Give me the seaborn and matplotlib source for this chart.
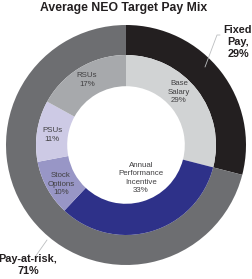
import matplotlib
matplotlib.use("Agg")
import matplotlib.pyplot as plt
import seaborn as sns

# Data
outer_labels = ["Fixed Pay", "Pay-at-risk"]
outer_values = [29, 71]
outer_colors = ["#231f20", "#6d6e71"]

inner_labels = ["Base\nSalary", "Annual\nPerformance\nIncentive", "Stock\nOptions", "PSUs", "RSUs"]
inner_values = [29, 33, 10, 11, 17]
inner_colors = ["#d1d3d4", "#2e3189", "#9896c6", "#cdcae5", "#a7a9ac"]

title = "Average NEO Target Pay Mix"

sns.set_theme(style="white")
plt.rcParams["font.family"] = ["Liberation Sans", "DejaVu Sans"]

W, H = 253, 279
fig = plt.figure(figsize=(W / 100, H / 100), dpi=100)
fig.patch.set_facecolor("white")
cx, cy, R = 126, 145, 120
ax = fig.add_axes([(cx - R) / W, (H - cy - R) / H, 2 * R / W, 2 * R / H])
ax.set_xlim(-1, 1)
ax.set_ylim(-1, 1)
ax.set_aspect("equal")
ax.axis("off")

ax.pie(outer_values, radius=1.0, colors=outer_colors, startangle=90, counterclock=False,
       wedgeprops=dict(width=0.25, linewidth=0))
ax.pie(inner_values, radius=0.75, colors=inner_colors, startangle=90, counterclock=False,
       wedgeprops=dict(width=0.26, linewidth=0))
ax.set_xlim(-1, 1)
ax.set_ylim(-1, 1)

# inner labels (pixel positions converted to data coords)
inner_pos = [(179, 92), (141, 178), (61, 184), (52, 135), (87, 80)]
for lab, v, (px, py) in zip(inner_labels, inner_values, inner_pos):
    ax.text((px - cx) / R, (cy - py) / R, f"{lab}\n{v}%", ha="center", va="center",
            fontsize=5.7, color="#414042", linespacing=1.3)

# outer labels
def ftext(px, py, s, **kw):
    fig.text(px / W, 1 - py / H, s, **kw)

ftext(238, 42, f"Fixed\nPay,\n{outer_values[0]}%", ha="center", va="center", fontsize=7.8,
      fontweight="bold", color="#231f20", linespacing=1.2)
ftext(28, 265, f"Pay-at-risk,\n{outer_values[1]}%", ha="center", va="center", fontsize=7.8,
      fontweight="bold", color="#231f20", linespacing=1.2)

# leader lines
fig.add_artist(plt.Line2D([220 / W, 217 / W, 205 / W], [1 - 35 / H, 1 - 35 / H, 1 - 67 / H],
                          color="#bcbec0", lw=0.6))
fig.add_artist(plt.Line2D([35 / W, 47 / W], [1 - 257 / H, 1 - 240 / H],
                          color="#bcbec0", lw=0.6))

ftext(124, 8.5, title, ha="center", va="center", fontsize=8.8, fontweight="bold", color="#231f20")

fig.savefig("out.png", dpi=100)
